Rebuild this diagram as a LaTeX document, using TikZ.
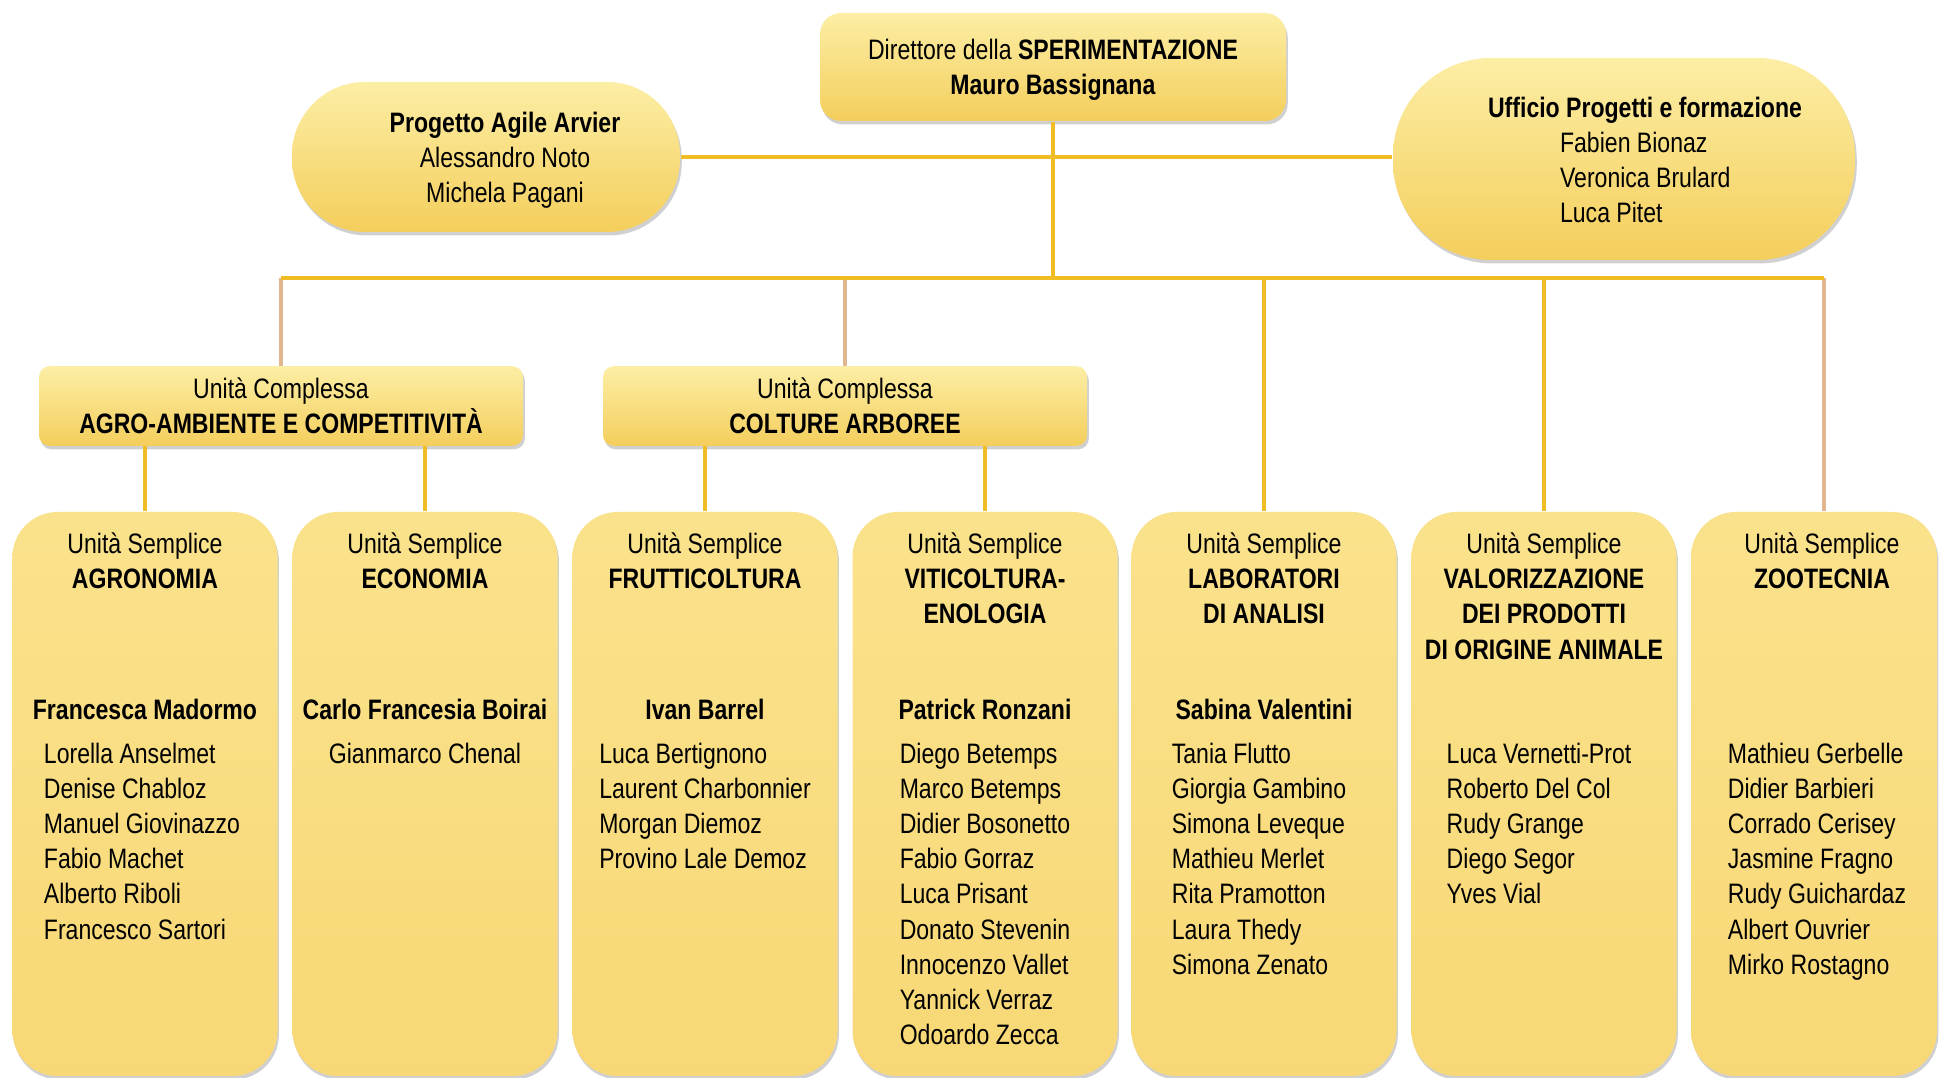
\documentclass[tikz,border=0pt]{standalone}
\usepackage{fontspec}
\setmainfont{Liberation Sans}[FakeStretch=0.82]
\usepackage{tikz}
\usetikzlibrary{positioning, shadows, calc}
\definecolor{boxyellow}{RGB}{248,216,118}
\definecolor{boxtop}{RGB}{250,226,140}
\definecolor{boxlight}{RGB}{252,238,165}
\definecolor{boxdeep}{RGB}{244,206,92}
\definecolor{lineyellow}{RGB}{240,190,36}
\definecolor{linetan}{RGB}{226,182,142}

\begin{document}
\begin{tikzpicture}[
  font=\fontsize{8}{10}\selectfont,
  topbox/.style={rectangle, rounded corners=6pt, top color=boxlight, bottom color=boxdeep,
              minimum width=4.66cm, minimum height=1.08cm, align=center, text depth=0pt,
              drop shadow={shadow xshift=0.5pt, shadow yshift=-1pt, opacity=0.3, fill=black!60}},
  pill/.style={rectangle, top color=boxlight, bottom color=boxdeep,
              drop shadow={shadow xshift=0.5pt, shadow yshift=-1pt, opacity=0.3, fill=black!60}},
  ucbox/.style={rectangle, rounded corners=3pt, top color=boxlight, bottom color=boxdeep,
              minimum width=4.84cm, minimum height=0.78cm, align=center,
              drop shadow={shadow xshift=0.5pt, shadow yshift=-1pt, opacity=0.3, fill=black!60}},
  usbox/.style={rectangle, rounded corners=0.45cm, top color=boxtop, bottom color=boxyellow,
              minimum width=2.65cm, minimum height=5.64cm,
              drop shadow={shadow xshift=0.4pt, shadow yshift=-1pt, opacity=0.3, fill=black!60}},
  ustitle/.style={align=center, inner sep=0pt},
  ushead/.style={inner sep=0pt, font=\fontsize{8}{10}\selectfont\bfseries},
  usnames/.style={align=left, inner sep=0pt},
  conn/.style={lineyellow, line width=1.1pt},
  conn2/.style={linetan, line width=0.9pt},
]

\fill[white] (0,0) rectangle (19.39,-10.78);
\useasboundingbox (0,0) rectangle (19.39,-10.78);

% top level
\node[topbox] (dir) at (10.53,-0.67) {Direttore della \textbf{SPERIMENTAZIONE}\\\textbf{Mauro Bassignana}};

\node[pill, rounded corners=0.73cm, minimum width=3.88cm, minimum height=1.5cm] (prog) at (4.86,-1.57) {};
\node[align=center] (progtxt) at (5.05,-1.60) {\textbf{Progetto Agile Arvier}\\Alessandro Noto\\Michela Pagani};

\node[pill, rounded corners=0.98cm, minimum width=4.62cm, minimum height=2.02cm] (uff) at (16.24,-1.59) {};
\node[align=left] (ufftxt) at (16.45,-1.60) {\textbf{Ufficio Progetti e formazione}\\\hspace*{0.72cm}Fabien Bionaz\\\hspace*{0.72cm}Veronica Brulard\\\hspace*{0.72cm}Luca Pitet};

% unita complesse
\node[ucbox] (agro) at (2.81,-4.06) {Unità Complessa\\\textbf{AGRO-AMBIENTE E COMPETITIVITÀ}};
\node[ucbox] (colt) at (8.45,-4.06) {Unità Complessa\\\textbf{COLTURE ARBOREE}};

% unita semplici
\node[usbox] (agron) at (1.45,-7.94) {};
\node[usbox] (econ) at (4.25,-7.94) {};
\node[usbox] (frut) at (7.05,-7.94) {};
\node[usbox] (viti) at (9.85,-7.94) {};
\node[usbox] (lab) at (12.64,-7.94) {};
\node[usbox] (valor) at (15.44,-7.94) {};
\node[usbox, minimum width=2.46cm] (zoo) at (18.14,-7.94) {};

\node[ustitle, below=0.21cm of agron.north] (agrontit) {Unità Semplice\\\textbf{AGRONOMIA}};
\node[ushead, below=1.87cm of agron.north] (agronhead) {Francesca Madormo};
\node[usnames, below=2.31cm of agron.north, xshift=-0.03cm] (agronmem) {Lorella Anselmet\\Denise Chabloz\\Manuel Giovinazzo\\Fabio Machet\\Alberto Riboli\\Francesco Sartori};

\node[ustitle, below=0.21cm of econ.north] (econtit) {Unità Semplice\\\textbf{ECONOMIA}};
\node[ushead, below=1.87cm of econ.north] (econhead) {Carlo Francesia Boirai};
\node[usnames, below=2.31cm of econ.north] (econmem) {Gianmarco Chenal};

\node[ustitle, below=0.21cm of frut.north] (fruttit) {Unità Semplice\\\textbf{FRUTTICOLTURA}};
\node[ushead, below=1.87cm of frut.north] (fruthead) {Ivan Barrel};
\node[usnames, below=2.31cm of frut.north] (frutmem) {Luca Bertignono\\Laurent Charbonnier\\Morgan Diemoz\\Provino Lale Demoz};

\node[ustitle, below=0.21cm of viti.north] (vititit) {Unità Semplice\\\textbf{VITICOLTURA-}\\\textbf{ENOLOGIA}};
\node[ushead, below=1.87cm of viti.north] (vitihead) {Patrick Ronzani};
\node[usnames, below=2.31cm of viti.north] (vitimem) {Diego Betemps\\Marco Betemps\\Didier Bosonetto\\Fabio Gorraz\\Luca Prisant\\Donato Stevenin\\Innocenzo Vallet\\Yannick Verraz\\Odoardo Zecca};

\node[ustitle, below=0.21cm of lab.north] (labtit) {Unità Semplice\\\textbf{LABORATORI}\\\textbf{DI ANALISI}};
\node[ushead, below=1.87cm of lab.north] (labhead) {Sabina Valentini};
\node[usnames, below=2.31cm of lab.north, xshift=-0.05cm] (labmem) {Tania Flutto\\Giorgia Gambino\\Simona Leveque\\Mathieu Merlet\\Rita Pramotton\\Laura Thedy\\Simona Zenato};

\node[ustitle, below=0.21cm of valor.north] (valortit) {Unità Semplice\\\textbf{VALORIZZAZIONE}\\\textbf{DEI PRODOTTI}\\\textbf{DI ORIGINE ANIMALE}};
\node[usnames, below=2.31cm of valor.north, xshift=-0.05cm] (valormem) {Luca Vernetti-Prot\\Roberto Del Col\\Rudy Grange\\Diego Segor\\Yves Vial};

\node[ustitle, below=0.21cm of zoo.north, xshift=0.08cm] (zootit) {Unità Semplice\\\textbf{ZOOTECNIA}};
\node[usnames, below=2.31cm of zoo.north, xshift=0.03cm] (zoomem) {Mathieu Gerbelle\\Didier Barbieri\\Corrado Cerisey\\Jasmine Fragno\\Rudy Guichardaz\\Albert Ouvrier\\Mirko Rostagno};

% connectors
\coordinate (bus) at (10.53,-2.78);
\coordinate (zootop) at (18.24,-2.78);

\draw[conn] (prog.east) -- (prog.east -| uff.west);
\draw[conn] (dir.south) -- (bus);

\draw[conn2] (agro.north |- bus) -- (agro.north);
\draw[conn2] (colt.north |- bus) -- (colt.north);
\draw[conn] (lab.north |- bus) -- (lab.north);
\draw[conn] (valor.north |- bus) -- (valor.north);
\draw[conn2] (zootop) -- (zootop |- zoo.north);
\draw[conn] (agro.north |- bus) -- (zootop);

\draw[conn] (agron.north |- agro.south) -- (agron.north);
\draw[conn] (econ.north |- agro.south) -- (econ.north);
\draw[conn] (frut.north |- colt.south) -- (frut.north);
\draw[conn] (viti.north |- colt.south) -- (viti.north);

\end{tikzpicture}
\end{document}
